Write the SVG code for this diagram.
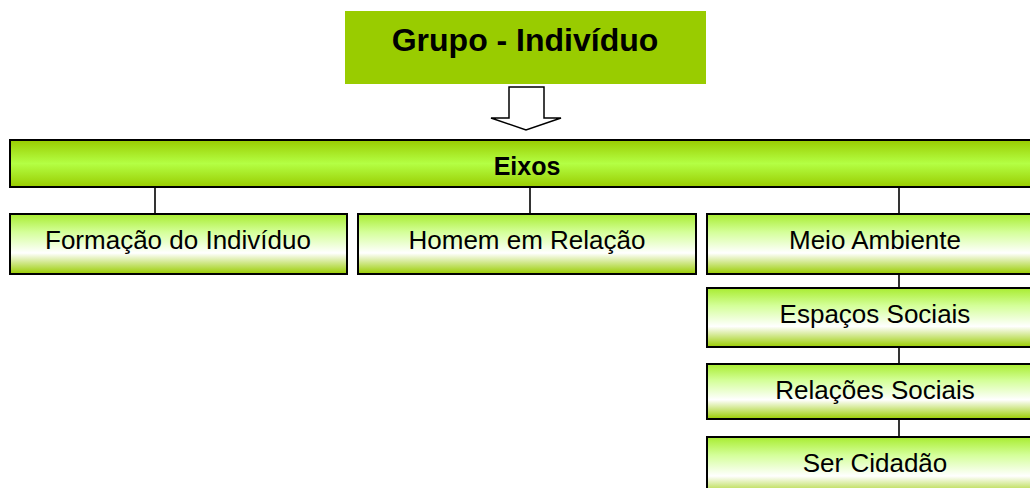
<svg xmlns="http://www.w3.org/2000/svg" width="1030" height="488" viewBox="0 0 1030 488">
<defs>
<linearGradient id="gBar" x1="0" y1="0" x2="0" y2="1">
<stop offset="0" stop-color="#99cc00"/>
<stop offset="0.5" stop-color="#b4ff44"/>
<stop offset="1" stop-color="#99cc00"/>
</linearGradient>
<linearGradient id="gBox" x1="0" y1="0" x2="0" y2="1">
<stop offset="0" stop-color="#a8ec30"/>
<stop offset="0.3" stop-color="#d4ff99"/>
<stop offset="0.65" stop-color="#ffffff"/>
<stop offset="1" stop-color="#99cc00"/>
</linearGradient>
</defs>
<style>
.box{fill:url(#gBox);stroke:#000;stroke-width:2}
.t{font-family:"Liberation Sans",Arial,sans-serif;font-size:26px;fill:#000;text-anchor:middle}
.b{font-weight:bold}
.c line{stroke:#000;stroke-width:1.6}
</style>
<g id="grupo">
<rect x="345" y="11" width="361" height="73" fill="#99cc00"/>
<text class="t b" x="525" y="51" style="font-size:32px">Grupo - Indivíduo</text>
</g>
<g id="seta">
<path d="M509,87 L544,87 L544,118 L561,118 L526,130 L491,118 L509,118 Z" fill="#fff" stroke="#000" stroke-width="1.5" stroke-linejoin="miter"/>
</g>
<g id="eixos">
<rect x="10" y="140" width="1034" height="47" fill="url(#gBar)" stroke="#000" stroke-width="2"/>
<text class="t b" x="527" y="175" style="font-size:25px">Eixos</text>
</g>
<g class="c" id="connectors">
<line x1="155" y1="187" x2="155" y2="214"/>
<line x1="530" y1="187" x2="530" y2="214"/>
<line x1="899" y1="187" x2="899" y2="214"/>
<line x1="899" y1="274" x2="899" y2="288"/>
<line x1="899" y1="347" x2="899" y2="364"/>
<line x1="899" y1="419" x2="899" y2="437"/>
</g>
<g id="formacao">
<rect class="box" x="10" y="214" width="337" height="60"/>
<text class="t" x="178" y="249">Formação do Indivíduo</text>
</g>
<g id="homem">
<rect class="box" x="358" y="214" width="338" height="60"/>
<text class="t" x="527" y="249">Homem em Relação</text>
</g>
<g id="meio">
<rect class="box" x="707" y="214" width="336" height="60"/>
<text class="t" x="875" y="249">Meio Ambiente</text>
</g>
<g id="espacos">
<rect class="box" x="707" y="288" width="336" height="59"/>
<text class="t" x="875" y="323">Espaços Sociais</text>
</g>
<g id="relacoes">
<rect class="box" x="707" y="364" width="336" height="55"/>
<text class="t" x="875" y="399">Relações Sociais</text>
</g>
<g id="cidadao">
<rect class="box" x="707" y="437" width="336" height="60"/>
<text class="t" x="875" y="472">Ser Cidadão</text>
</g>
</svg>
